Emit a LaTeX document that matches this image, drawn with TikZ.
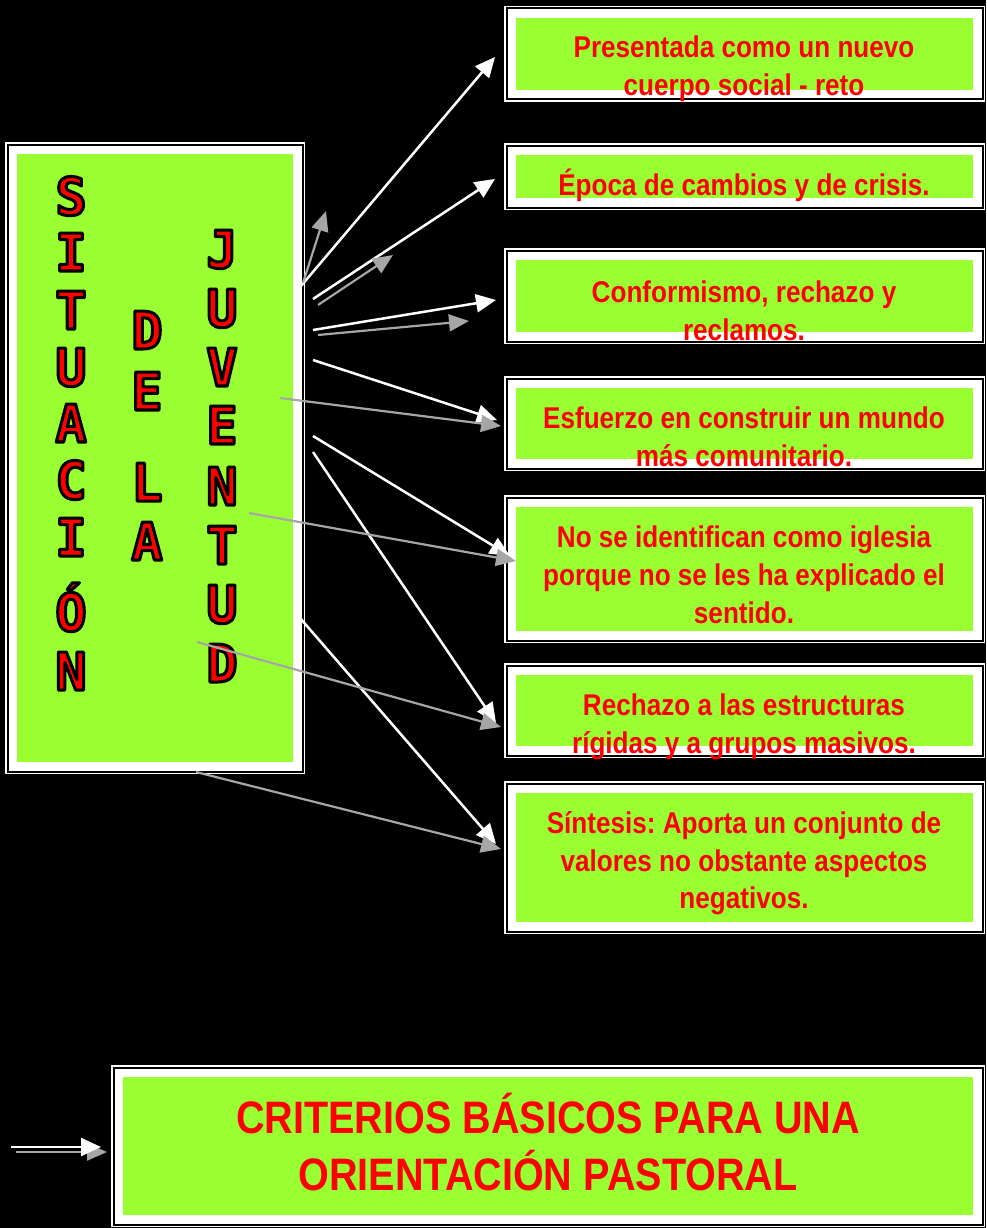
\documentclass[tikz,border=0pt]{standalone}
\usepackage{fontspec}
\setmainfont{Liberation Sans}
\newfontfamily\boxfont[FakeStretch=0.87]{Liberation Sans}
\newfontfamily\letfont{DejaVu Sans Mono}
\usetikzlibrary{arrows.meta}
\definecolor{lime}{RGB}{153,255,51}
\definecolor{arrgray}{RGB}{166,166,166}
\frenchspacing
\tikzset{
  greenbox/.style={fill=lime, inner sep=0pt, outer sep=0pt, anchor=north west},
  txt/.style={font=\boxfont\bfseries\fontsize{30}{36}\selectfont, text=red, anchor=base, inner sep=0pt},
  bigtxt/.style={font=\boxfont\bfseries\fontsize{45.5}{55}\selectfont, text=red, anchor=base, inner sep=0pt},
  lettr/.style={font=\letfont\bfseries\fontsize{52}{60}\selectfont, text=red, anchor=base, inner sep=0pt},
  warr/.style={draw=white, line width=2.5pt, -{Triangle[length=20pt,width=18pt]}},
  garr/.style={draw=arrgray, line width=2.2pt, -{Triangle[length=20pt,width=17pt]}}
}
\newcommand\frbox[5]{%
  \fill[white] (#2,#3) rectangle (#4,#5);
  \draw[black,line width=2pt] (#2+2.5,#3+2.5) rectangle (#4-2.5,#5-2.5);
  \node[greenbox, minimum width=#4-#2-24, minimum height=#5-#3-24] (#1) at (#2+12,#3+12) {};
}
\newcommand\olet[4]{%
  \node[lettr] (#1) at (#2,#3) {\special{pdf:literal direct q 2 Tr 3 w 1 j 0 0 0 RG}#4\special{pdf:literal direct Q}};
}
\begin{document}
\begin{tikzpicture}[x=1pt,y=-1pt]
\fill[black] (0,0) rectangle (986,1228);
\useasboundingbox (0,0) rectangle (986,1228);

% frames
\frbox{lb}{5}{142}{305}{774}
\frbox{b1}{504}{6}{985}{102}
\frbox{b2}{504}{143}{985}{210}
\frbox{b3}{504}{248}{985}{344}
\frbox{b4}{504}{376}{985}{471}
\frbox{b5}{504}{495}{985}{643}
\frbox{b6}{504}{663}{985}{758}
\frbox{b7}{504}{781}{985}{934}
\frbox{bb}{111}{1065}{985}{1227}

% vertical letters
\olet{s1}{71}{215}{S}
\olet{s2}{71}{271}{I}
\olet{s3}{71}{329}{T}
\olet{s4}{71}{386}{U}
\olet{s5}{71}{442}{A}
\olet{s6}{71}{499}{C}
\olet{s7}{71}{556}{I}
\olet{s8}{71}{631}{Ó}
\olet{s9}{71}{690}{N}
\olet{d1}{147}{349}{D}
\olet{d2}{147}{410}{E}
\olet{d3}{147}{501}{L}
\olet{d4}{147}{560}{A}
\olet{j1}{222}{268}{J}
\olet{j2}{222}{327}{U}
\olet{j3}{222}{386}{V}
\olet{j4}{222}{444}{E}
\olet{j5}{222}{505}{N}
\olet{j6}{222}{564}{T}
\olet{j7}{222}{623}{U}
\olet{j8}{222}{682}{D}

% texts
\node[txt] (t1a) at (744,58) {Presentada como un nuevo};
\node[txt] (t1b) at (744,96) {cuerpo social - reto};
\node[txt] (t2a) at (744,195) {Época de cambios y de crisis.};
\node[txt] (t3a) at (744,302) {Conformismo, rechazo y};
\node[txt] (t3b) at (744,340) {reclamos.};
\node[txt] (t4a) at (744,428) {Esfuerzo en construir un mundo};
\node[txt] (t4b) at (744,466) {más comunitario.};
\node[txt] (t5a) at (744,547) {No se identifican como iglesia};
\node[txt] (t5b) at (744,585) {porque no se les ha explicado el};
\node[txt] (t5c) at (744,623) {sentido.};
\node[txt] (t6a) at (744,715) {Rechazo a las estructuras};
\node[txt] (t6b) at (744,753) {rígidas y a grupos masivos.};
\node[txt] (t7a) at (744,833) {Síntesis: Aporta un conjunto de};
\node[txt] (t7b) at (744,871) {valores no obstante aspectos};
\node[txt] (t7c) at (744,908) {negativos.};
\node[bigtxt] (tba) at (548,1133) {CRITERIOS BÁSICOS PARA UNA};
\node[bigtxt] (tbb) at (548,1190) {ORIENTACIÓN PASTORAL};

% arrow end points
\coordinate (g1s) at (303,283); \coordinate (g1e) at (326,211);
\coordinate (g2s) at (318,305); \coordinate (g2e) at (393,255);
\coordinate (g3s) at (318,335); \coordinate (g3e) at (469,321);
\coordinate (g4s) at (280,398); \coordinate (g4e) at (501,426);
\coordinate (g5s) at (249,513); \coordinate (g5e) at (516,561);
\coordinate (g6s) at (197,642); \coordinate (g6e) at (501,727);
\coordinate (g7s) at (196,772); \coordinate (g7e) at (501,849);
\coordinate (w1s) at (301,286); \coordinate (w1e) at (495,57);
\coordinate (w2s) at (313,299); \coordinate (w2e) at (495,179);
\coordinate (w3s) at (313,330); \coordinate (w3e) at (496,300);
\coordinate (w4s) at (313,360); \coordinate (w4e) at (497,420);
\coordinate (w5s) at (313,436); \coordinate (w5e) at (510,556);
\coordinate (w6s) at (313,452); \coordinate (w6e) at (496,723);
\coordinate (w7s) at (300,618); \coordinate (w7e) at (496,844);
\coordinate (bgs) at (16,1152); \coordinate (bge) at (107,1152);
\coordinate (bws) at (11,1147); \coordinate (bwe) at (101,1147);

\foreach \n in {1,...,7}{\draw[warr] (w\n s) -- (w\n e);}
\foreach \n in {1,...,7}{\draw[garr] (g\n s) -- (g\n e);}
\draw[garr] (bgs) -- (bge);
\draw[warr] (bws) -- (bwe);
\end{tikzpicture}
\end{document}
